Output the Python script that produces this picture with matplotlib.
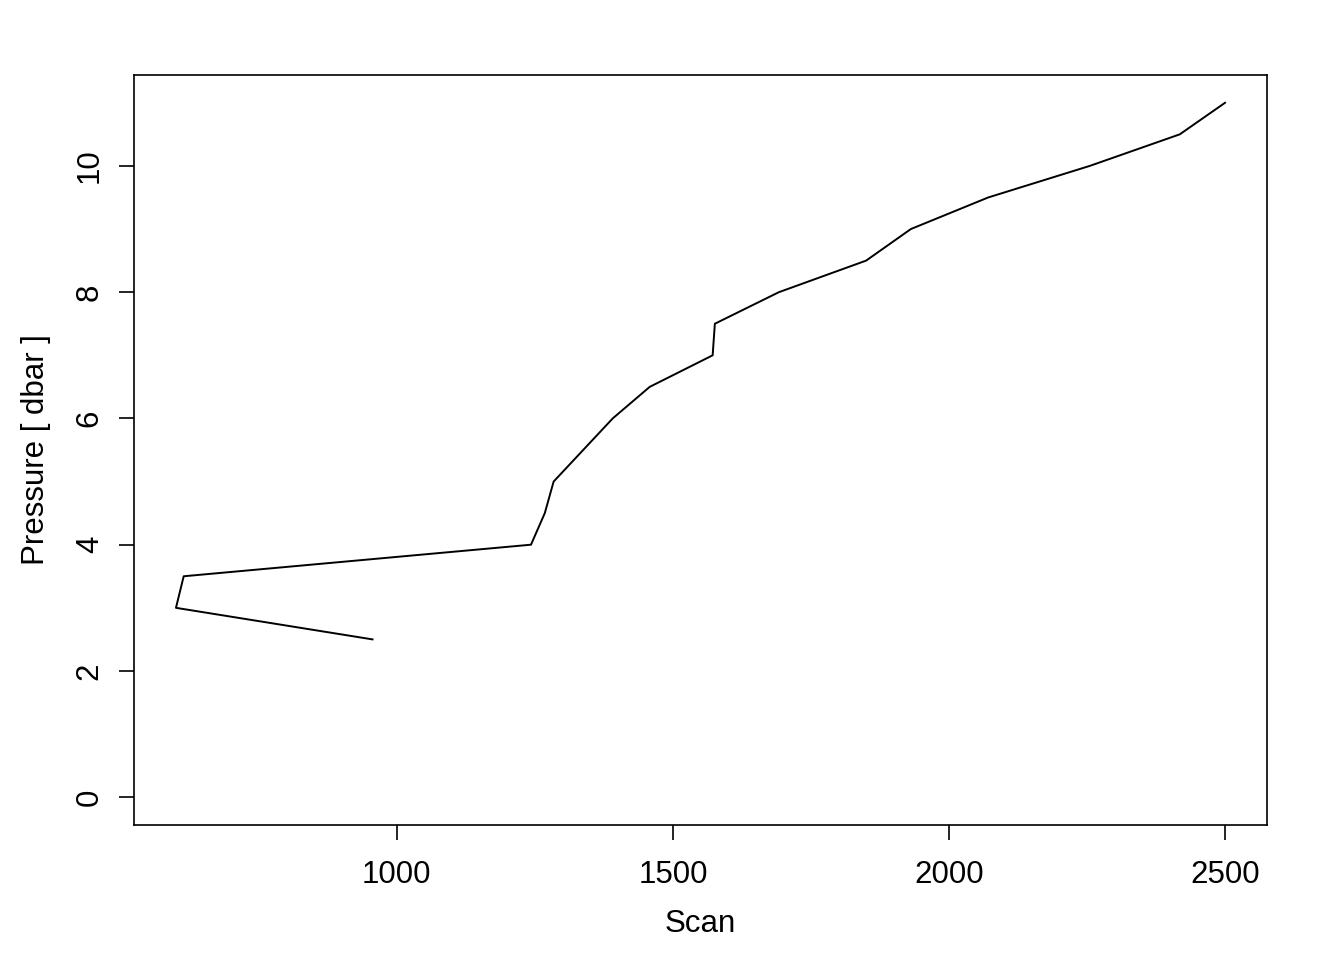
import matplotlib.pyplot as plt

# profile values
scan = [956, 600, 614, 1243, 1268, 1284, 1391, 1458, 1572, 1576,
        1692, 1850, 1931, 2071, 2255, 2418, 2500]
pressure = [2.5, 3.0, 3.5, 4.0, 4.5, 5.0, 6.0, 6.5, 7.0, 7.5,
            8.0, 8.5, 9.0, 9.5, 10.0, 10.5, 11.0]
xticks = [1000, 1500, 2000, 2500]
yticks = [0, 2, 4, 6, 8, 10]

plt.rcParams['font.family'] = ['Liberation Sans', 'DejaVu Sans']

fig = plt.figure(figsize=(13.44, 9.6), dpi=100)
ax = fig.add_axes([134 / 1344, 135 / 960, (1267 - 134) / 1344, (825 - 75) / 960])
ax.plot(scan, pressure, color='black', linewidth=1.4)

# R-style 4% padding
xr = max(scan) - min(scan)
ax.set_xlim(min(scan) - 0.04 * xr, max(scan) + 0.04 * xr)
ax.set_ylim(0 - 0.04 * 11, 11 + 0.04 * 11)

ax.set_xticks(xticks)
ax.set_yticks(yticks)
ax.set_yticklabels([str(v) for v in yticks], rotation=90, va='center')
ax.tick_params(axis='both', direction='out', length=11, width=1.2,
               labelsize=22.5)
ax.tick_params(axis='x', pad=14)
ax.tick_params(axis='y', pad=10)
for s in ax.spines.values():
    s.set_linewidth(1.2)

ax.set_xlabel('Scan', fontsize=22.5, labelpad=14)
ax.set_ylabel('Pressure [ dbar ]', fontsize=22.5, labelpad=17)

fig.savefig('out.png', dpi=100)
